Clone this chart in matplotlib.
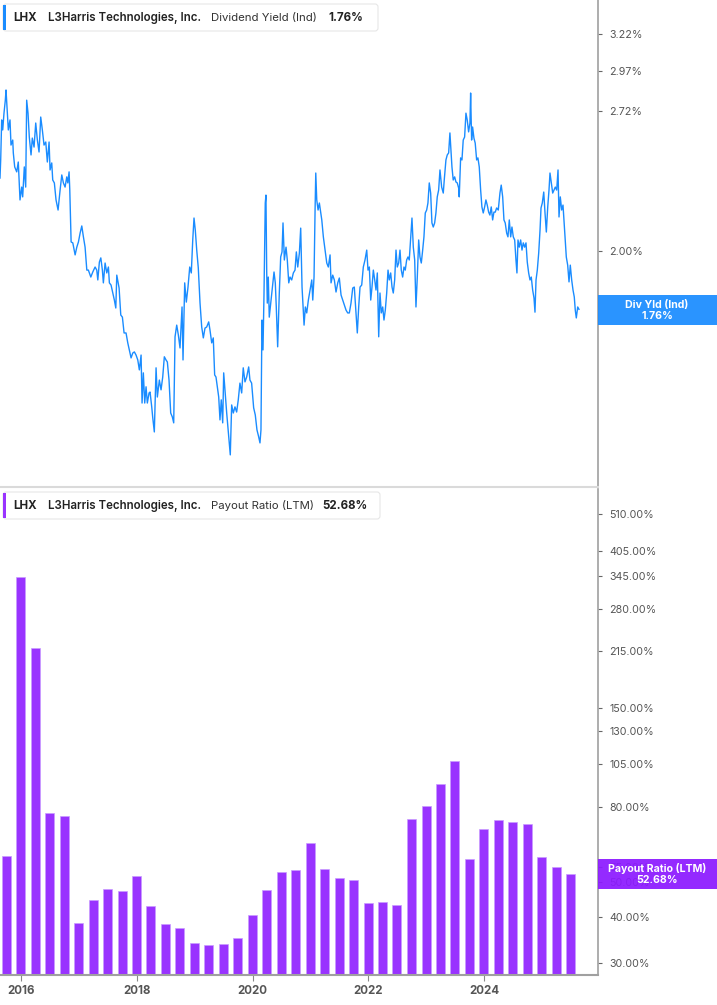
import numpy as np
import pandas as pd
import matplotlib
matplotlib.use("Agg")
import matplotlib.pyplot as plt
from matplotlib.ticker import NullLocator, FixedLocator, FixedFormatter
from matplotlib.patches import FancyBboxPatch, Rectangle

plt.rcParams['font.family'] = ['Inter', 'DejaVu Sans']

# ---------------- data ----------------
ticker = "LHX"
company = "L3Harris Technologies, Inc."
yield_title = "Dividend Yield (Ind)"
payout_title = "Payout Ratio (LTM)"
yield_last = "1.76%"
payout_last = "52.68%"

# dividend yield (%), dates as decimal years
yield_years = [
    2015.637, 2015.649, 2015.666, 2015.684, 2015.706, 2015.729, 2015.741, 2015.758, 2015.781, 2015.810,
    2015.827, 2015.857, 2015.867, 2015.891, 2015.926, 2015.953, 2015.983, 2016.012, 2016.029, 2016.057,
    2016.081, 2016.098, 2016.121, 2016.143, 2016.173, 2016.195, 2016.225, 2016.254, 2016.282, 2016.311,
    2016.340, 2016.368, 2016.397, 2016.427, 2016.454, 2016.484, 2016.501, 2016.530, 2016.547, 2016.575,
    2016.604, 2016.639, 2016.674, 2016.703, 2016.731, 2016.760, 2016.789, 2016.807, 2016.829, 2016.841,
    2016.864, 2016.893, 2016.933, 2016.962, 2016.990, 2017.019, 2017.048, 2017.076, 2017.105, 2017.135,
    2017.162, 2017.204, 2017.238, 2017.278, 2017.307, 2017.325, 2017.352, 2017.377, 2017.404, 2017.421,
    2017.451, 2017.480, 2017.508, 2017.525, 2017.554, 2017.584, 2017.611, 2017.636, 2017.653, 2017.693,
    2017.722, 2017.750, 2017.779, 2017.813, 2017.843, 2017.870, 2017.900, 2017.929, 2017.957, 2017.986,
    2018.016, 2018.043, 2018.073, 2018.090, 2018.112, 2018.136, 2018.159, 2018.181, 2018.211, 2018.228,
    2018.257, 2018.275, 2018.302, 2018.332, 2018.354, 2018.389, 2018.418, 2018.447, 2018.475, 2018.504,
    2018.527, 2018.556, 2018.585, 2018.613, 2018.637, 2018.660, 2018.689, 2018.717, 2018.746, 2018.781,
    2018.798, 2018.827, 2018.855, 2018.884, 2018.914, 2018.941, 2018.966, 2018.988, 2019.010, 2019.035,
    2019.062, 2019.092, 2019.121, 2019.149, 2019.178, 2019.207, 2019.242, 2019.264, 2019.294, 2019.321,
    2019.345, 2019.368, 2019.390, 2019.415, 2019.437, 2019.459, 2019.484, 2019.501, 2019.523, 2019.553,
    2019.575, 2019.598, 2019.615, 2019.639, 2019.667, 2019.696, 2019.725, 2019.753, 2019.782, 2019.812,
    2019.839, 2019.869, 2019.898, 2019.933, 2019.955, 2019.984, 2020.019, 2020.047, 2020.076, 2020.105,
    2020.128, 2020.145, 2020.162, 2020.180, 2020.197, 2020.209, 2020.219, 2020.231, 2020.244, 2020.254,
    2020.271, 2020.288, 2020.313, 2020.340, 2020.370, 2020.392, 2020.409, 2020.433, 2020.461, 2020.485,
    2020.508, 2020.525, 2020.548, 2020.577, 2020.599, 2020.624, 2020.646, 2020.675, 2020.703, 2020.732,
    2020.755, 2020.779, 2020.807, 2020.830, 2020.853, 2020.888, 2020.910, 2020.934, 2020.962, 2020.991,
    2021.021, 2021.038, 2021.060, 2021.078, 2021.090, 2021.107, 2021.130, 2021.152, 2021.176, 2021.194,
    2021.221, 2021.250, 2021.280, 2021.307, 2021.337, 2021.354, 2021.383, 2021.411, 2021.440, 2021.470,
    2021.497, 2021.527, 2021.556, 2021.584, 2021.613, 2021.642, 2021.670, 2021.699, 2021.729, 2021.756,
    2021.786, 2021.808, 2021.832, 2021.855, 2021.884, 2021.912, 2021.941, 2021.971, 2021.993, 2022.016,
    2022.040, 2022.062, 2022.085, 2022.109, 2022.131, 2022.154, 2022.178, 2022.200, 2022.223, 2022.247,
    2022.269, 2022.292, 2022.316, 2022.339, 2022.361, 2022.385, 2022.408, 2022.430, 2022.454, 2022.477,
    2022.499, 2022.523, 2022.546, 2022.568, 2022.592, 2022.615, 2022.637, 2022.661, 2022.684, 2022.706,
    2022.731, 2022.753, 2022.776, 2022.800, 2022.822, 2022.845, 2022.869, 2022.891, 2022.914, 2022.938,
    2022.960, 2022.983, 2023.007, 2023.029, 2023.052, 2023.076, 2023.098, 2023.121, 2023.145, 2023.167,
    2023.190, 2023.214, 2023.237, 2023.266, 2023.294, 2023.311, 2023.340, 2023.363, 2023.387, 2023.409,
    2023.427, 2023.444, 2023.466, 2023.491, 2023.513, 2023.536, 2023.560, 2023.570, 2023.594, 2023.617,
    2023.639, 2023.663, 2023.686, 2023.708, 2023.732, 2023.755, 2023.767, 2023.784, 2023.801, 2023.824,
    2023.846, 2023.871, 2023.893, 2023.916, 2023.940, 2023.962, 2023.985, 2024.009, 2024.031, 2024.054,
    2024.078, 2024.100, 2024.123, 2024.147, 2024.169, 2024.192, 2024.216, 2024.244, 2024.273, 2024.295,
    2024.320, 2024.342, 2024.364, 2024.389, 2024.411, 2024.434, 2024.458, 2024.480, 2024.503, 2024.527,
    2024.549, 2024.566, 2024.584, 2024.606, 2024.630, 2024.653, 2024.675, 2024.699, 2024.722, 2024.744,
    2024.768, 2024.791, 2024.813, 2024.837, 2024.860, 2024.877, 2024.895, 2024.917, 2024.941, 2024.964,
    2024.981, 2025.003, 2025.028, 2025.050, 2025.073, 2025.097, 2025.119, 2025.136, 2025.159, 2025.183,
    2025.206, 2025.228, 2025.252, 2025.275, 2025.292, 2025.314, 2025.338, 2025.361, 2025.378, 2025.396,
    2025.418, 2025.442, 2025.465, 2025.487, 2025.511, 2025.534, 2025.556, 2025.573, 2025.591, 2025.615,
    2025.637,
]
yield_values = [
    2.347, 2.442, 2.666, 2.608, 2.706, 2.784, 2.847, 2.741, 2.608, 2.666,
    2.523, 2.551, 2.480, 2.405, 2.379, 2.431, 2.237, 2.301, 2.252, 2.405,
    2.301, 2.784, 2.706, 2.568, 2.469, 2.562, 2.512, 2.648, 2.551, 2.485,
    2.683, 2.608, 2.523, 2.540, 2.431, 2.540, 2.389, 2.426, 2.337, 2.322,
    2.237, 2.188, 2.286, 2.363, 2.322, 2.301, 2.353, 2.322, 2.379, 2.286,
    2.040, 2.036, 1.983, 2.017, 2.040, 2.080, 2.113, 2.063, 2.017, 1.918,
    1.918, 1.889, 1.910, 1.931, 1.918, 1.877, 1.952, 1.970, 1.918, 1.865,
    1.948, 1.906, 1.931, 1.865, 1.856, 1.824, 1.796, 1.765, 1.897, 1.844,
    1.738, 1.730, 1.671, 1.671, 1.635, 1.610, 1.582, 1.599, 1.603, 1.592,
    1.575, 1.541, 1.592, 1.433, 1.531, 1.433, 1.485, 1.433, 1.465, 1.468,
    1.421, 1.387, 1.345, 1.548, 1.452, 1.507, 1.475, 1.517, 1.586, 1.575,
    1.568, 1.507, 1.402, 1.390, 1.372, 1.657, 1.700, 1.664, 1.617, 1.769,
    1.575, 1.865, 1.788, 1.848, 1.931, 1.906, 2.049, 2.150, 2.094, 2.004,
    1.927, 1.784, 1.693, 1.653, 1.689, 1.693, 1.712, 1.682, 1.635, 1.653,
    1.524, 1.517, 1.485, 1.452, 1.381, 1.443, 1.372, 1.531, 1.475, 1.402,
    1.357, 1.313, 1.279, 1.427, 1.402, 1.421, 1.405, 1.443, 1.497, 1.465,
    1.548, 1.501, 1.517, 1.551, 1.507, 1.497, 1.418, 1.396, 1.351, 1.331,
    1.313, 1.351, 1.719, 1.610, 1.816, 2.036, 2.222, 2.261, 1.910, 1.784,
    1.889, 1.730, 1.784, 1.848, 1.910, 1.865, 1.769, 1.621, 1.824, 1.974,
    1.996, 2.127, 1.961, 2.017, 1.961, 1.865, 1.889, 1.877, 1.906, 1.918,
    1.996, 1.931, 1.991, 2.103, 1.848, 1.700, 1.769, 1.746, 1.796, 1.836,
    1.877, 1.796, 1.889, 2.188, 2.373, 2.237, 2.188, 2.222, 2.174, 2.141,
    2.063, 2.004, 1.948, 1.931, 1.983, 1.865, 1.897, 1.877, 1.828, 1.865,
    1.885, 1.816, 1.796, 1.776, 1.757, 1.746, 1.746, 1.784, 1.844, 1.848,
    1.746, 1.671, 1.769, 1.848, 1.856, 1.931, 1.961, 2.004, 1.918, 1.931,
    1.796, 1.848, 1.918, 1.877, 1.836, 1.906, 1.657, 1.824, 1.746, 1.769,
    1.719, 1.757, 1.824, 1.918, 1.877, 1.906, 1.848, 1.824, 1.877, 2.004,
    1.931, 1.948, 2.004, 1.918, 1.889, 1.931, 1.918, 1.961, 1.974, 1.961,
    2.063, 2.150, 2.017, 1.961, 1.769, 1.889, 2.049, 1.974, 1.948, 2.004,
    2.063, 2.174, 2.188, 2.222, 2.322, 2.271, 2.127, 2.108, 2.127, 2.174,
    2.252, 2.286, 2.389, 2.301, 2.271, 2.337, 2.442, 2.469, 2.480, 2.591,
    2.496, 2.405, 2.337, 2.353, 2.327, 2.322, 2.296, 2.252, 2.453, 2.442,
    2.551, 2.568, 2.706, 2.666, 2.597, 2.648, 2.828, 2.551, 2.625, 2.562,
    2.534, 2.442, 2.453, 2.405, 2.286, 2.203, 2.174, 2.203, 2.237, 2.212,
    2.178, 2.164, 2.203, 2.141, 2.178, 2.178, 2.198, 2.188, 2.271, 2.311,
    2.252, 2.141, 2.127, 2.080, 2.063, 2.141, 2.063, 2.108, 2.063, 2.049,
    1.961, 1.906, 2.049, 2.017, 2.049, 2.004, 2.036, 2.017, 2.036, 1.952,
    1.906, 1.877, 1.889, 1.836, 1.804, 1.749, 1.877, 1.918, 1.991, 2.094,
    2.198, 2.222, 2.276, 2.174, 2.085, 2.203, 2.286, 2.373, 2.322, 2.271,
    2.286, 2.301, 2.286, 2.389, 2.155, 2.252, 2.188, 2.212, 2.141, 2.063,
    1.974, 1.939, 1.869, 1.939, 1.877, 1.836, 1.808, 1.757, 1.727, 1.769,
    1.760,
]

# payout ratio (LTM, %), quarterly from Q3 2015 to Q2 2025
payout_start = "2015-09-30"
payout_values = [
    58.9, 342.6, 219.0, 77.1, 75.7, 38.5, 44.5, 47.7, 47.1, 51.8,
    42.8, 38.4, 37.3, 33.9, 33.5, 33.8, 35.1, 40.5, 47.4, 53.2,
    53.8, 64.1, 54.2, 51.1, 50.6, 43.7, 44.0, 43.2, 74.4, 80.6,
    93.0, 107.1, 57.8, 70.0, 73.8, 73.0, 72.2, 58.4, 54.8, 52.68,
]

yield_ticks = [3.22, 2.97, 2.72, 2.00]
payout_ticks = [510, 405, 345, 280, 215, 150, 130, 105, 80, 55, 50, 40, 30]
year_ticks = [2016, 2018, 2020, 2022, 2024]

# ---------------- helpers ----------------
def dy2dt(y):
    yr = int(np.floor(y))
    s = pd.Timestamp(yr, 1, 1)
    e = pd.Timestamp(yr + 1, 1, 1)
    return s + (e - s) * (y - yr)

line_dates = [dy2dt(v) for v in yield_years]
bar_dates = pd.date_range(payout_start, periods=len(payout_values), freq="QE")

W, H = 717, 1005
BLUE = "#1a8cff"
PURPLE = "#9933ff"
GREY = "#a0a0a0"

fig = plt.figure(figsize=(W / 100, H / 100), dpi=100)
fig.patch.set_facecolor("white")

def ax_rect(x0, y0, x1, y1):
    return [x0 / W, 1 - y1 / H, (x1 - x0) / W, (y1 - y0) / H]

xmin = dy2dt(2015.637)
xmax = dy2dt(2025.966)

# ---- top panel ----
ax1 = fig.add_axes(ax_rect(0, 0, 598, 487))
ax1.plot(line_dates, yield_values, color=BLUE, lw=1.0)
ax1.set_yscale("log")
ax1.set_ylim(1.192, 3.468)
ax1.set_xlim(xmin, xmax)
ax1.yaxis.tick_right()
ax1.yaxis.set_major_locator(FixedLocator(yield_ticks))
ax1.yaxis.set_major_formatter(FixedFormatter([f"{t:.2f}%" for t in yield_ticks]))
ax1.yaxis.set_minor_locator(NullLocator())
ax1.tick_params(axis="y", which="major", direction="out", length=3, width=0.8,
                color="#666666", labelsize=7.7, labelcolor="#555555", pad=5)
ax1.set_xticks([])
for s in ["left", "top"]:
    ax1.spines[s].set_visible(False)
ax1.spines["right"].set_color(GREY)
ax1.spines["right"].set_linewidth(1.2)
ax1.spines["bottom"].set_color("#dadada")
ax1.spines["bottom"].set_linewidth(1.5)

# ---- bottom panel ----
ax2 = fig.add_axes(ax_rect(0, 489, 598, 975))
ax2.bar(bar_dates, payout_values, width=57, color=PURPLE, edgecolor="#c99cff",
        linewidth=0.5, bottom=0)
ax2.set_yscale("log")
ax2.set_ylim(27.75, 598.6)
ax2.set_xlim(xmin, xmax)
ax2.yaxis.tick_right()
ax2.yaxis.set_major_locator(FixedLocator(payout_ticks))
ax2.yaxis.set_major_formatter(FixedFormatter([f"{t:.2f}%" for t in payout_ticks]))
ax2.yaxis.set_minor_locator(NullLocator())
ax2.tick_params(axis="y", which="major", direction="out", length=3, width=0.8,
                color="#666666", labelsize=7.7, labelcolor="#555555", pad=5)
ax2.set_xticks([pd.Timestamp(y, 1, 1) for y in year_ticks])
ax2.set_xticklabels([str(y) for y in year_ticks])
ax2.xaxis.set_minor_locator(NullLocator())
ax2.tick_params(axis="x", direction="out", length=4, width=0.8, color="#888888",
                labelsize=8.3, labelcolor="#555555", pad=3.5)
for lab in ax2.get_xticklabels():
    lab.set_fontweight("bold")
for s in ["left", "top"]:
    ax2.spines[s].set_visible(False)
ax2.spines["right"].set_color(GREY)
ax2.spines["right"].set_linewidth(1.2)
ax2.spines["bottom"].set_color(GREY)
ax2.spines["bottom"].set_linewidth(1.5)

# ---- overlay for labels (pixel coordinates) ----
ov = fig.add_axes([0, 0, 1, 1], zorder=10)
ov.set_xlim(0, W)
ov.set_ylim(H, 0)
ov.axis("off")

def legend_box(y0, y1, x1, color, title, value, value_x):
    ov.add_patch(FancyBboxPatch((3, y0), x1 - 3, y1 - y0,
                                boxstyle="round,pad=0,rounding_size=3",
                                facecolor="white", edgecolor="#e6e6e6", lw=0.8))
    ov.add_patch(Rectangle((3, y0 + 1), 3.2, y1 - y0 - 2, facecolor=color,
                           edgecolor="none"))
    yc = (y0 + y1) / 2
    ov.text(13, yc, ticker, fontsize=8.3, fontweight="bold", color="#222222",
            va="center", ha="left")
    ov.text(48, yc, company, fontsize=8.3, fontweight="semibold", color="#222222",
            va="center", ha="left")
    ov.text(211, yc, title, fontsize=8.2, color="#333333", va="center", ha="left")
    ov.text(value_x, yc, value, fontsize=8.3, fontweight="bold", color="#222222",
            va="center", ha="left")

legend_box(4, 31, 378, BLUE, yield_title, yield_last, 328)
legend_box(492, 519, 380, PURPLE, payout_title, payout_last, 322)

def value_box(y0, y1, color, l1, l2):
    ov.add_patch(Rectangle((598, y0), W - 598, y1 - y0, facecolor=color,
                           edgecolor="none", alpha=0.93))
    ov.text(657, y0 + (y1 - y0) * 0.32, l1, fontsize=7.6, fontweight="bold",
            color="white", ha="center", va="center")
    ov.text(657, y0 + (y1 - y0) * 0.70, l2, fontsize=7.6, fontweight="bold",
            color="white", ha="center", va="center")

value_box(295, 325, BLUE, "Div Yld (Ind)", yield_last)
value_box(859, 889, "#8c1aff", payout_title, payout_last)

fig.savefig("out.png", dpi=100)
